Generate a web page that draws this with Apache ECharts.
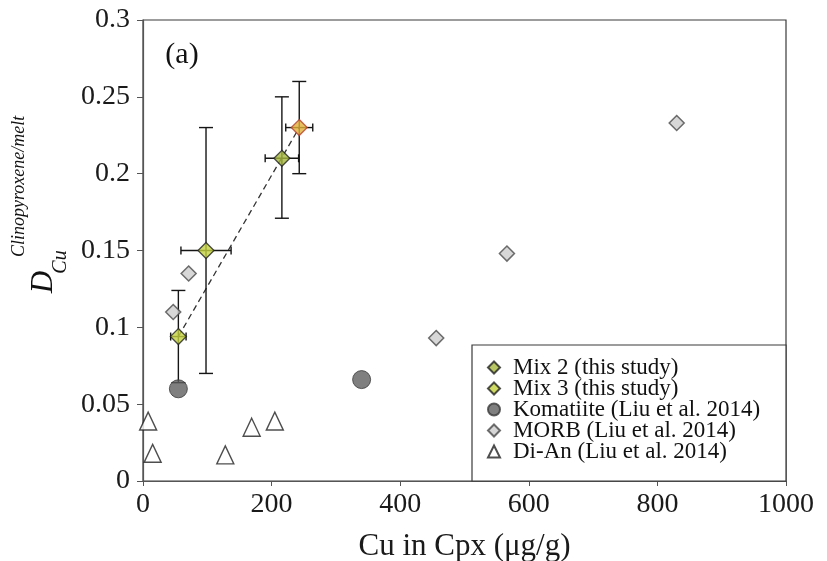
<!DOCTYPE html>
<html>
<head>
<meta charset="utf-8">
<script src="https://cdn.jsdelivr.net/npm/echarts@6/dist/echarts.min.js"></script>
<style>
  html, body { margin: 0; padding: 0; background: #fff; }
  #chart { width: 827px; height: 561px; }
</style>
</head>
<body>
<div id="chart"></div>
<script>
const serif = '"Liberation Serif", "Times New Roman", serif';

// Axis ranges and steps
const xRange = [0, 1000];
const xStep = 200;
const yRange = [0, 0.3];
const yStep = 0.05;

// Experiments of this study: [Cu in Cpx (ug/g), D Cu cpx/melt]
const mix2Points = [[216, 0.210], [243, 0.230]];
const mix2XErr = [26, 21];
const mix2YLow = [0.171, 0.200];
const mix2YHigh = [0.250, 0.260];

const mix3Points = [[55, 0.094], [98, 0.150]];
const mix3XErr = [12, 39];
const mix3YLow = [0.064, 0.070];
const mix3YHigh = [0.124, 0.230];

// Literature data (Liu et al. 2014)
const komatiite = [[55, 0.060], [340, 0.066]];
const morb = [[47, 0.110], [71, 0.135], [456, 0.093], [566, 0.148], [830, 0.233]];
const diAn = [[8, 0.039], [15, 0.018], [128, 0.017], [169, 0.035], [205, 0.039]];

// Trend through the experiments
const trend = [[55, 0.094], [243, 0.230]];

const names = ['Mix 2 (this study)', 'Mix 3 (this study)', 'Komatiite (Liu et al. 2014)',
               'MORB (Liu et al. 2014)', 'Di-An (Liu et al. 2014)'];

// rows for the error bar layer: [x, y, xErr, yLow, yHigh]
function errRows(pts, xe, lo, hi) {
  return pts.map((p, i) => [p[0], p[1], xe[i], lo[i], hi[i]]);
}
const errData = errRows(mix2Points, mix2XErr, mix2YLow, mix2YHigh)
  .concat(errRows(mix3Points, mix3XErr, mix3YLow, mix3YHigh));

function renderErr(params, api) {
  const x = api.value(0), y = api.value(1), xe = api.value(2);
  const lo = api.value(3), hi = api.value(4);
  const c = api.coord([x, y]);
  const l = api.coord([x - xe, y]);
  const r = api.coord([x + xe, y]);
  const t = api.coord([x, hi]);
  const b = api.coord([x, lo]);
  const vc = 7, hc = 4;
  const st = { stroke: '#151515', lineWidth: 1.4 };
  const seg = (x1, y1, x2, y2) => ({ type: 'line', shape: { x1, y1, x2, y2 }, style: st });
  return {
    type: 'group',
    children: [
      seg(c[0], t[1], c[0], b[1]),
      seg(c[0] - vc, t[1], c[0] + vc, t[1]),
      seg(c[0] - vc, b[1], c[0] + vc, b[1]),
      seg(l[0], c[1], r[0], c[1]),
      seg(l[0], c[1] - hc, l[0], c[1] + hc),
      seg(r[0], c[1] - hc, r[0], c[1] + hc)
    ]
  };
}

const chart = echarts.init(document.getElementById('chart'), null, { renderer: 'canvas' });

const axisText = { fontFamily: serif, fontSize: 28, color: '#1a1a1a' };

chart.setOption({
  animation: false,
  backgroundColor: '#fff',
  grid: {
    left: 143, right: 41, top: 20, bottom: 80,
    containLabel: false, outerBoundsMode: 'none',
    show: true, borderColor: '#3a3a3a', borderWidth: 1.2, backgroundColor: 'transparent'
  },
  xAxis: {
    type: 'value', min: xRange[0], max: xRange[1], interval: xStep,
    name: 'Cu in Cpx (\u03bcg/g)', nameLocation: 'middle', nameGap: 50,
    nameTextStyle: { fontFamily: serif, fontSize: 31, color: '#1a1a1a' },
    axisLine: { show: true, lineStyle: { color: '#555', width: 1.2 } },
    axisTick: { show: true, inside: false, length: 5, lineStyle: { color: '#555' } },
    axisLabel: Object.assign({ margin: 10, formatter: v => String(v) }, axisText),
    splitLine: { show: false }
  },
  yAxis: {
    type: 'value', min: yRange[0], max: yRange[1], interval: yStep,
    axisLine: { show: true, lineStyle: { color: '#555', width: 1.2 } },
    axisTick: { show: true, inside: false, length: 6, lineStyle: { color: '#555' } },
    axisLabel: Object.assign({ margin: 13, formatter: v => String(v) }, axisText),
    splitLine: { show: false }
  },
  legend: {
    data: names,
    orient: 'vertical',
    left: 487, top: 356,
    padding: 0,
    itemWidth: 12, itemHeight: 12, itemGap: -2,
    textStyle: { fontFamily: serif, fontSize: 23, color: '#111', padding: [0, 0, 0, 8] },
    z: 10
  },
  graphic: [
    {
      type: 'rect', z: 5,
      shape: { x: 472, y: 345, width: 314, height: 136 },
      style: { fill: '#fff', stroke: '#3a3a3a', lineWidth: 1.2 }
    },
    {
      type: 'text', x: 182, y: 55, z: 6,
      style: { text: '(a)', font: '30px ' + serif, fill: '#111', align: 'center', verticalAlign: 'middle' }
    },
    {
      type: 'text', x: 44, y: 282, rotation: Math.PI / 2, z: 6,
      style: { text: 'D', font: 'italic 31px ' + serif, fill: '#111', align: 'center', verticalAlign: 'middle' }
    },
    {
      type: 'text', x: 61, y: 262, rotation: Math.PI / 2, z: 6,
      style: { text: 'Cu', font: 'italic 20px ' + serif, fill: '#111', align: 'center', verticalAlign: 'middle' }
    },
    {
      type: 'text', x: 19, y: 257, rotation: Math.PI / 2, z: 6,
      style: { text: 'Clinopyroxene/melt', font: 'italic 18px ' + serif, fill: '#111', align: 'left', verticalAlign: 'middle' }
    }
  ],
  series: [
    {
      type: 'line', data: trend, symbol: 'none', silent: true, z: 1,
      lineStyle: { color: '#333', width: 1.3, type: [6, 4] }
    },
    {
      type: 'custom', data: errData, renderItem: renderErr, z: 2, silent: true,
      encode: { x: 0, y: 1 }
    },
    {
      name: names[2], type: 'scatter', data: komatiite, symbol: 'circle', symbolSize: 18, z: 3,
      itemStyle: { color: '#5f5f5f', borderColor: '#3a3a3a', borderWidth: 1 }
    },
    {
      name: names[3], type: 'scatter', data: morb, symbol: 'diamond', symbolSize: 15, z: 3,
      itemStyle: { color: '#cdcdcd', borderColor: '#4a4a4a', borderWidth: 1.5 }
    },
    {
      name: names[4], type: 'scatter', data: diAn, symbol: 'triangle', symbolSize: [17, 18], z: 3,
      itemStyle: { color: '#fff', borderColor: '#222', borderWidth: 1.4 }
    },
    {
      name: names[0], type: 'scatter', symbol: 'diamond', symbolSize: 16, z: 4,
      data: [
        { value: mix2Points[0] },
        { value: mix2Points[1], itemStyle: { color: '#e1b03a', borderColor: '#b5402c' } }
      ],
      itemStyle: { color: '#a6b83c', borderColor: '#222', borderWidth: 1.3 }
    },
    {
      name: names[1], type: 'scatter', symbol: 'diamond', symbolSize: 16, z: 4,
      data: mix3Points,
      itemStyle: { color: '#c3d23e', borderColor: '#222', borderWidth: 1.3 }
    }
  ]
});
</script>
</body>
</html>
